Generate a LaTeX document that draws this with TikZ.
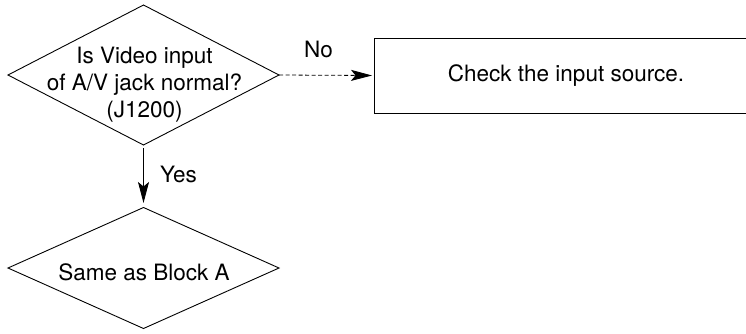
\documentclass[tikz,border=0pt]{standalone}
\usepackage{fontspec}
\setmainfont{TeX Gyre Heros}
\usetikzlibrary{shapes.geometric,arrows.meta}
\begin{document}
\begin{tikzpicture}[x=1pt,y=-1pt,
  lbl/.style={font=\fontsize{22.5}{27}\selectfont, inner sep=0pt, outer sep=0pt},
  dia/.style={draw, diamond, line width=0.9pt, inner sep=0pt, outer sep=0pt, minimum width=271pt},
  boxnode/.style={draw, rectangle, line width=1pt, inner sep=0pt, outer sep=0pt, font=\fontsize{22.5}{27}\selectfont},
  arr/.style={line width=0.9pt, -{Stealth[length=21pt, width=11pt, inset=4.5pt]}},
  dasharr/.style={arr, line width=0.8pt, dash pattern=on 4pt off 2.5pt}]
\useasboundingbox (0,0) rectangle (746,333);
\clip (0,0) rectangle (746,333);
\node[dia, minimum height=140pt] (q1) at (143.5,75) {};
\node[dia, minimum height=121pt] (q2) at (143.5,268) {};
\node[boxnode, minimum width=384pt, minimum height=75pt, text height=16pt, text depth=5pt, anchor=west] (box) at (374,75.5) {Check the input source.};
\node[lbl, anchor=base] (q1t) at (144.5,63.3) {\begin{tabular}[t]{@{}c@{}}Is Video input\\of A/V jack normal?\\(J1200)\end{tabular}};
\node[lbl, anchor=base] (q2t) at (144,280.7) {Same as Block A};
\node[lbl, anchor=base] (no) at (318.5,57.5) {No};
\node[lbl, anchor=base west] (yes) at (160,182) {Yes};
\draw[arr, shorten <=3pt, shorten >=4.5pt] (q1.south) -- (q2.north);
\draw[dasharr, shorten >=2pt] (q1.east) -- (box.west);
\end{tikzpicture}
\end{document}
